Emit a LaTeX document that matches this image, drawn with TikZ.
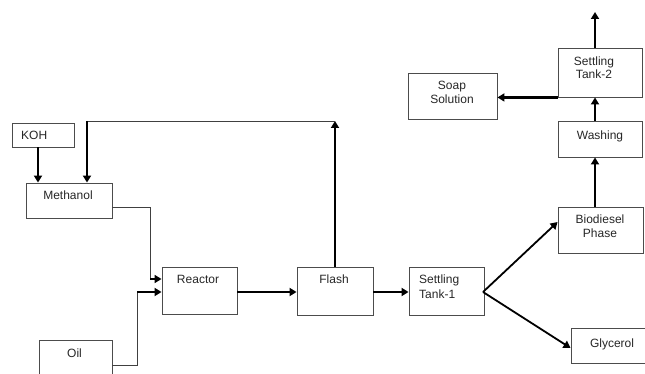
\documentclass[tikz,border=0pt]{standalone}
\usepackage{fontspec}
\setmainfont{Liberation Sans}
\usetikzlibrary{arrows.meta,calc}
\tikzset{
  box/.style={draw=black!70, line width=0.9pt, rectangle, inner sep=0pt},
  txt/.style={anchor=base, inner sep=0pt, font=\fontsize{12}{14}\selectfont, text=black!85},
  thickarrow/.style={line width=2.2pt, -{Triangle[length=7pt,width=8pt]}},
  thinline/.style={line width=0.9pt, draw=black!75},
  thinarrow/.style={line width=0.9pt, draw=black!75, -{Triangle[length=7pt,width=8pt]}},
}
\begin{document}
\begin{tikzpicture}[x=1pt,y=-1pt]
\useasboundingbox (0,0) rectangle (645,374);
\clip (0,0) rectangle (645,374);
% boxes
\node[box, minimum width=62pt, minimum height=24pt] (koh) at (43,135) {};
\node[box, minimum width=86pt, minimum height=35pt] (meth) at (69,200.5) {};
\node[box, minimum width=75pt, minimum height=47pt] (reac) at (199.5,290.5) {};
\node[box, minimum width=73pt, minimum height=50pt] (oil) at (75.5,365) {};
\node[box, minimum width=76pt, minimum height=48pt] (flash) at (335,291) {};
\node[box, minimum width=75pt, minimum height=48pt] (st1) at (446.5,291) {};
\node[box, minimum width=85pt, minimum height=46pt] (bio) at (600.5,230) {};
\node[box, minimum width=79pt, minimum height=35pt] (gly) at (610.5,345.5) {};
\node[box, minimum width=84pt, minimum height=49pt] (st2) at (600,72.5) {};
\node[box, minimum width=84pt, minimum height=36pt] (wash) at (600,139) {};
\node[box, minimum width=89pt, minimum height=46pt] (soap) at (452.5,96) {};
% texts
\node[txt, anchor=base west] at (21,140) {KOH};
\node[txt] at (68,200) {Methanol};
\node[txt] at (198,283) {Reactor};
\node[txt] at (74.5,357) {Oil};
\node[txt] at (334,283) {Flash};
\node[txt, anchor=base west] at (419,283) {Settling};
\node[txt, anchor=base west] at (419,298) {Tank-1};
\node[txt] at (452,90) {Soap};
\node[txt] at (452,104) {Solution};
\node[txt] at (594,66) {Settling};
\node[txt] at (594,79) {Tank-2};
\node[txt] at (600,140) {Washing};
\node[txt] at (600,223) {Biodiesel};
\node[txt] at (600,237) {Phase};
\node[txt] at (612,347) {Glycerol};
% connectors
\coordinate (recyc) at (335,121);
\coordinate (top) at (595,12);
\coordinate (split) at (483,292);
\draw[thickarrow] (koh.south -| 38,0) -- (meth.north -| 38,0);
\draw[thickarrow] (flash.north) -- (recyc);
\draw[thinline] (recyc) -- (87,121);
\draw[thickarrow] (87,121) -- (meth.north -| 87,0);
\draw[thinline] (meth.east |- 0,207) -| (150,279);
\draw[thickarrow, line width=1.6pt] (150,279) -- (reac.west |- 0,279);
\draw[thinline] (oil.east |- 0,365) -| (137,292);
\draw[thickarrow] (137,292) -- (reac.west |- 0,292);
\draw[thickarrow] (reac.east |- 0,292) -- (flash.west |- 0,292);
\draw[thickarrow] (flash.east |- 0,292) -- (st1.west |- 0,292);
\draw[thickarrow, line width=1.8pt] (split) -- (bio.west |- 0,222);
\draw[thickarrow, line width=1.8pt] (split) -- (gly.west |- 0,348);
\draw[thickarrow] (bio.north -| 595,0) -- (wash.south -| 595,0);
\draw[thickarrow] (wash.north -| 595,0) -- (st2.south -| 595,0);
\draw[thickarrow] (st2.north -| 595,0) -- (top);
\draw[thickarrow] (st2.south west) -- (soap.east |- st2.south west);
\end{tikzpicture}
\end{document}
